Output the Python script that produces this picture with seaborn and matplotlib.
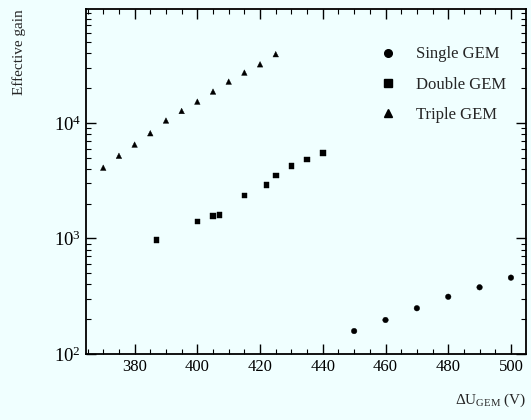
import matplotlib
matplotlib.use("Agg")
import numpy as np
import pandas as pd
import matplotlib.pyplot as plt
import seaborn as sns
from matplotlib.ticker import MultipleLocator, LogLocator, NullFormatter
from matplotlib.lines import Line2D

# data
single_u = [450, 460, 470, 480, 490, 500]
single_gain = [158, 197, 249, 313, 378, 458]

double_u = [387, 400, 405, 407, 415, 422, 425, 430, 435, 440]
double_gain = [970, 1400, 1570, 1600, 2350, 2900, 3500, 4250, 4850, 5470]

triple_u = [370, 375, 380, 385, 390, 395, 400, 405, 410, 415, 420, 425]
triple_gain = [4100, 5200, 6500, 8150, 10500, 12700, 15300, 18700, 22800, 27300, 32200, 39400]

labels = ["Single GEM", "Double GEM", "Triple GEM"]

df = pd.concat([
    pd.DataFrame({"U": single_u, "gain": single_gain, "type": labels[0]}),
    pd.DataFrame({"U": double_u, "gain": double_gain, "type": labels[1]}),
    pd.DataFrame({"U": triple_u, "gain": triple_gain, "type": labels[2]}),
])

sns.set_style("ticks")
bg = "#f0ffff"
plt.rcParams["font.family"] = ["Liberation Serif", "DejaVu Serif"]
plt.rcParams["mathtext.fontset"] = "custom"
plt.rcParams["mathtext.rm"] = "Liberation Serif"
plt.rcParams["mathtext.it"] = "Liberation Serif"

fig = plt.figure(figsize=(5.31, 4.20), dpi=100, facecolor=bg)
ax = fig.add_axes([86 / 531, 1 - 354 / 420, (526 - 86) / 531, (354 - 9) / 420])
ax.set_facecolor(bg)

sns.scatterplot(data=df, x="U", y="gain", style="type",
                markers={labels[0]: "o", labels[1]: "s", labels[2]: "^"},
                color="black", s=16, edgecolor="black", linewidth=0.3,
                ax=ax, legend=False)

ax.set_yscale("log")
ax.set_xlim(364.5, 504.8)
ax.set_ylim(100, 97000)

ax.xaxis.set_major_locator(MultipleLocator(20))
ax.xaxis.set_minor_locator(MultipleLocator(5))
ax.yaxis.set_major_locator(LogLocator(base=10))
ax.yaxis.set_minor_locator(LogLocator(base=10, subs=np.arange(2, 10)))
ax.yaxis.set_minor_formatter(NullFormatter())

ax.tick_params(which="both", direction="in", top=True, right=True, colors="black")
ax.tick_params(which="major", length=7, width=1.0, labelsize=12)
ax.tick_params(axis="y", which="major", labelsize=13.5)
ax.tick_params(which="minor", length=3.5, width=0.8)
for sp in ax.spines.values():
    sp.set_linewidth(1.3)
    sp.set_color("black")

ax.set_xlabel(r"$\Delta\mathrm{U}_{\mathrm{GEM}}$ (V)", fontsize=11, loc="right", labelpad=12)
ax.set_ylabel("Effective gain", fontsize=11, loc="top", labelpad=20)

# legend
handles = [Line2D([], [], ls="none", marker=m, color="black", markersize=5.5)
           for m in ["o", "s", "^"]]
ax.legend(handles, labels, loc="upper right", bbox_to_anchor=(0.99, 0.935),
          frameon=False, fontsize=12, labelspacing=0.85, handletextpad=1.2,
          handlelength=1.0)

fig.savefig("out.png", dpi=100, facecolor=bg)
